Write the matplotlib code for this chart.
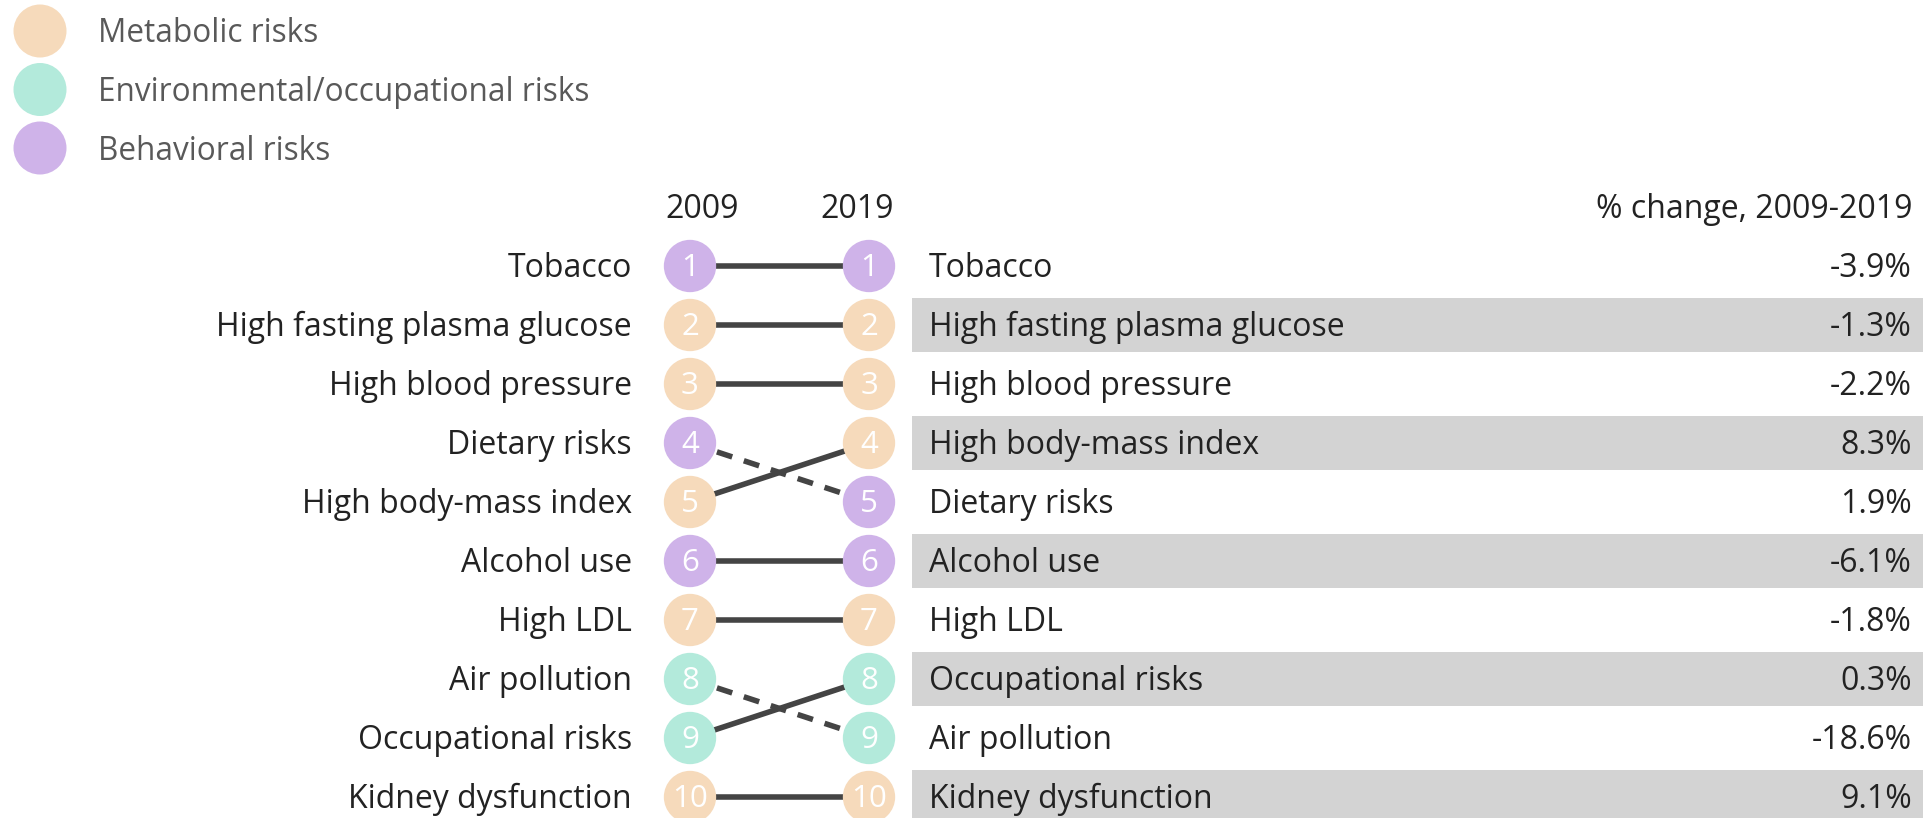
import matplotlib
matplotlib.use("Agg")
import matplotlib.pyplot as plt
from matplotlib.patches import Ellipse, Rectangle

plt.rcParams['font.family'] = ['Open Sans', 'DejaVu Sans']

# ---- data ----
labels_2009 = ["Tobacco", "High fasting plasma glucose", "High blood pressure",
               "Dietary risks", "High body-mass index", "Alcohol use", "High LDL",
               "Air pollution", "Occupational risks", "Kidney dysfunction"]
labels_2019 = ["Tobacco", "High fasting plasma glucose", "High blood pressure",
               "High body-mass index", "Dietary risks", "Alcohol use", "High LDL",
               "Occupational risks", "Air pollution", "Kidney dysfunction"]
pct_change_2019 = ["-3.9%", "-1.3%", "-2.2%", "8.3%", "1.9%", "-6.1%", "-1.8%",
                   "0.3%", "-18.6%", "9.1%"]
category = {
    "Tobacco": "Behavioral risks",
    "High fasting plasma glucose": "Metabolic risks",
    "High blood pressure": "Metabolic risks",
    "Dietary risks": "Behavioral risks",
    "High body-mass index": "Metabolic risks",
    "Alcohol use": "Behavioral risks",
    "High LDL": "Metabolic risks",
    "Air pollution": "Environmental/occupational risks",
    "Occupational risks": "Environmental/occupational risks",
    "Kidney dysfunction": "Metabolic risks",
}
legend_items = ["Metabolic risks", "Environmental/occupational risks", "Behavioral risks"]
colors = {"Metabolic risks": "#F6DABB",
          "Environmental/occupational risks": "#B3EADB",
          "Behavioral risks": "#CFB3E9"}
years = ["2009", "2019"]

# ---- figure / axes mapping (pixel layout) ----
W, H = 1924, 818
fig = plt.figure(figsize=(W / 100, H / 100), dpi=100)
ax = fig.add_axes([0, 0, 1, 1])
x0_px, x1_px = 690, 869
y1_px, dy_px = 266, 59
sx = x1_px - x0_px
ax.set_xlim(-x0_px / sx, (W - x0_px) / sx)
ax.set_ylim(1 + (H - y1_px) / dy_px, 1 - y1_px / dy_px)
ax.axis("off")

def px_x(p):
    return (p - x0_px) / sx

def px_y(p):
    return 1 + (p - y1_px) / dy_px

text_col = "#222222"
fs = 23
n = len(labels_2009)
toff = 0.04  # small downward text offset (rows)

# alternating bands on right side
for i in range(n):
    r = i + 1
    if r % 2 == 0:
        ax.add_patch(Rectangle((px_x(912), r - 0.46), px_x(W + 5) - px_x(912), 0.92,
                               facecolor="#D3D3D3", edgecolor="none", zorder=0))

# slope lines
for i, lab in enumerate(labels_2009):
    r09 = i + 1
    r19 = labels_2019.index(lab) + 1
    if r19 > r09:
        ax.plot([0, 1], [r09, r19], color="#444444", lw=4.0, ls="--",
                dashes=(2.9, 2.2), zorder=1)
    else:
        ax.plot([0, 1], [r09, r19], color="#444444", lw=4.0, ls="-", zorder=1)

# circles
for col, labs in enumerate([labels_2009, labels_2019]):
    for i, lab in enumerate(labs):
        ax.scatter(col, i + 1, s=1420, color=colors[category[lab]], zorder=2,
                   edgecolors="none")
        ax.text(col, i + 1 + toff, str(i + 1), color="white", fontsize=fs - 0.5,
                ha="center", va="center", zorder=3)

# labels
for i, lab in enumerate(labels_2009):
    ax.text(px_x(632), i + 1 + toff, lab, ha="right", va="center", fontsize=fs,
            color=text_col)
for i, lab in enumerate(labels_2019):
    ax.text(px_x(929), i + 1 + toff, lab, ha="left", va="center", fontsize=fs,
            color=text_col)
    ax.text(px_x(1912), i + 1 + toff, pct_change_2019[i], ha="right", va="center",
            fontsize=fs, color=text_col)

# headers
ax.text(px_x(702), px_y(210), years[0], ha="center", va="center", fontsize=fs, color=text_col)
ax.text(px_x(857), px_y(210), years[1], ha="center", va="center", fontsize=fs, color=text_col)
ax.text(px_x(1912), px_y(210), "% change, 2009-2019", ha="right", va="center",
        fontsize=fs, color=text_col)

# legend
for k, item in enumerate(legend_items):
    cy = 31 + 58.5 * k
    ax.add_patch(Ellipse((px_x(40), px_y(cy)), 53 / sx, 53 / dy_px,
                         facecolor=colors[item], edgecolor="none", zorder=2))
    ax.text(px_x(98), px_y(cy + 3), item, ha="left", va="center", fontsize=fs - 0.3,
            color="#595959")

fig.savefig("out.png", dpi=100)
